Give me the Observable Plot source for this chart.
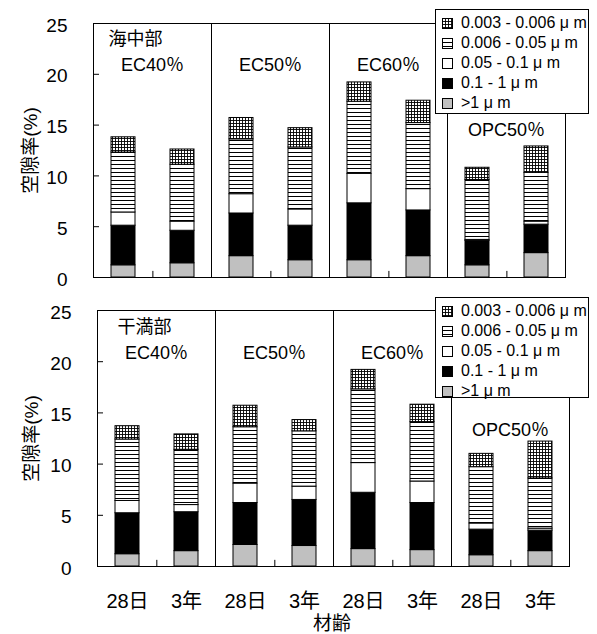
<!DOCTYPE html>
<html><head><meta charset="utf-8">
<script src="https://cdn.jsdelivr.net/npm/d3@7"></script>
<script src="https://cdn.jsdelivr.net/npm/@observablehq/plot@0.6"></script>
<style>
body{margin:0;background:#fff;font-family:"Liberation Sans","Noto Sans CJK JP",sans-serif;color:#000;}
#wrap{position:relative;width:597px;height:634px;overflow:hidden;background:#fff;}
.panel{position:absolute;left:0;}
.legend{position:absolute;border:1px solid #000;background:#fff;font-size:16px;box-sizing:border-box;padding-top:3px;z-index:2;}
.legend .row{display:flex;align-items:center;height:20px;padding-left:6px;white-space:nowrap;}
.legend .row svg{margin-right:8px;flex:none;}
.xtitle{position:absolute;left:292px;width:80px;text-align:center;top:614px;font-size:19px;line-height:20px;z-index:2;}
</style></head><body>
<svg width="0" height="0" style="position:absolute">
<defs>
<pattern id="pGrid" patternUnits="userSpaceOnUse" width="3" height="3">
 <rect width="3" height="3" fill="#fff"/>
 <path d="M0,0.5H3M0.5,0V3" stroke="#000" stroke-width="0.9"/>
</pattern>
<pattern id="pLines" patternUnits="userSpaceOnUse" width="4" height="4">
 <rect width="4" height="4" fill="#fff"/>
 <path d="M0,0.5H4" stroke="#000" stroke-width="1"/>
</pattern>
</defs></svg>
<div id="wrap"></div>
<script>
const groups = ["EC40％", "EC50％", "EC60％", "OPC50％"];
const ages = ["28日", "3年"];
// stack order, bottom to top
const sizes = [">1 μ m", "0.1 - 1 μ m", "0.05 - 0.1 μ m", "0.006 - 0.05 μ m", "0.003 - 0.006 μ m"];
const sizeFills = ["#c0c0c0", "#000000", "#ffffff", "url(#pLines)", "url(#pGrid)"];
const panelTitles = ["海中部", "干満部"];
const yTicks = [0, 5, 10, 15, 20, 25];
const yLabel = "空隙率(%)";
const xTitle = "材齢";

// bar order: EC40 28日, EC40 3年, EC50 28日, EC50 3年, EC60 28日, EC60 3年, OPC50 28日, OPC50 3年
// 海中部
const sea_gt1      = [1.2, 1.4, 2.1, 1.7, 1.7, 2.1, 1.2, 2.4];
const sea_01to1    = [3.9, 3.2, 4.2, 3.4, 5.6, 4.5, 2.4, 2.8];
const sea_005to01  = [1.3, 0.9, 1.9, 1.6, 2.9, 2.1, 0.1, 0.3];
const sea_0006to005= [5.9, 5.6, 5.4, 6.1, 7.1, 6.5, 5.9, 4.8];
const sea_0003to0006=[1.5, 1.5, 2.1, 1.9, 1.9, 2.2, 1.2, 2.6];
// 干満部
const tide_gt1      = [1.2, 1.5, 2.1, 2.0, 1.7, 1.6, 1.1, 1.5];
const tide_01to1    = [4.0, 3.8, 4.1, 4.5, 5.5, 4.6, 2.5, 2.0];
const tide_005to01  = [1.2, 0.7, 1.9, 1.3, 2.9, 2.1, 0.6, 0.2];
const tide_0006to005= [6.0, 5.4, 5.5, 5.4, 7.2, 5.8, 5.5, 4.9];
const tide_0003to0006=[1.3, 1.5, 2.1, 1.1, 1.9, 1.7, 1.3, 3.6];

const seaSeries = [sea_gt1, sea_01to1, sea_005to01, sea_0006to005, sea_0003to0006];
const tideSeries = [tide_gt1, tide_01to1, tide_005to01, tide_0006to005, tide_0003to0006];

function buildRows(series) {
  const rows = [];
  series.forEach((vals, s) => vals.forEach((v, i) => rows.push({
    group: groups[Math.floor(i / ages.length)], age: ages[i % ages.length], size: sizes[s], value: v
  })));
  return rows;
}

const FONT = '"Liberation Sans", "Noto Sans CJK JP", sans-serif';
const W = 597;

function makePanel(o) {
  const facetW = (W - o.ml - o.mr) / groups.length;
  const step = facetW / ages.length;
  const data = buildRows(o.series);
  return Plot.plot({
    width: W, height: o.height,
    marginTop: o.mt, marginBottom: o.mb, marginLeft: o.ml, marginRight: o.mr,
    style: {fontFamily: FONT, fontSize: "19px", color: "#000", background: "transparent", overflow: "visible"},
    fx: {domain: groups, padding: 0, axis: null, label: null},
    x: o.showX ? {domain: ages, paddingInner: 0.6, paddingOuter: 0.3, label: null}
               : {domain: ages, paddingInner: 0.6, paddingOuter: 0.3, axis: null, label: null},
    y: {domain: [0, 25], axis: null},
    color: {domain: sizes, range: sizeFills},
    marks: [
      Plot.barY(data, {fx: "group", x: "age", y: "value", fill: "size", stroke: "#000", strokeWidth: 1}),
      Plot.frame({stroke: "#000", strokeWidth: 1}),
      Plot.ruleX([ages[1]], {x: d => d, dx: -step / 2, y1: 0, y2: 0.6, stroke: "#000"}),
      Plot.axisY({ticks: yTicks, tickSize: 0, tickPadding: 26, dy: 2, fontSize: 19, fill: "#000",
                  label: yLabel, labelAnchor: "center", labelOffset: o.ml - 22, labelArrow: "none"}),
      Plot.axisY({ticks: yTicks.slice(1, -1), tickSize: 6, dx: 6, fill: "none", stroke: "#000", label: null}),
      Plot.text(groups.slice(0, 3), {fx: d => d, text: d => d, frameAnchor: "top", lineAnchor: "middle",
                                     dy: o.ecDy, fontSize: 18, fill: "#000"}),
      Plot.text(groups.slice(3), {fx: d => d, text: d => d, frameAnchor: "top", lineAnchor: "middle",
                                  dy: o.opcDy, fontSize: 18, fill: "#000"}),
      Plot.text([o.title], {fx: () => groups[0], text: d => d, frameAnchor: "top-left", textAnchor: "start",
                            lineAnchor: "middle", dx: o.titleDx, dy: o.titleDy, fontSize: 18, fill: "#000"}),
      o.showX ? Plot.axisX({tickSize: 0, tickPadding: 27, fontSize: 20, fill: "#000", label: null}) : null
    ]
  });
}

function makeLegend(top, height) {
  const div = document.createElement("div");
  div.className = "legend";
  Object.assign(div.style, {left: "435px", top: top + "px", width: "154px", height: height + "px"});
  for (let k = sizes.length - 1; k >= 0; k--) {
    const row = document.createElement("div");
    row.className = "row";
    row.innerHTML = `<svg width="11" height="11"><rect x="0.5" y="0.5" width="10" height="10" fill="${sizeFills[k]}" stroke="#000"/></svg><span>${sizes[k]}</span>`;
    div.appendChild(row);
  }
  return div;
}

const wrap = document.getElementById("wrap");
const top1 = makePanel({title: panelTitles[0], series: seaSeries, height: 290, mt: 23, mb: 13, ml: 92, mr: 31,
  titleDx: 15, titleDy: 16, ecDy: 42, opcDy: 107, showX: false});
top1.classList.add("panel"); top1.style.top = "0px";
wrap.appendChild(top1);
const bot = makePanel({title: panelTitles[1], series: tideSeries, height: 344, mt: 20, mb: 68, ml: 95, mr: 27,
  titleDx: 20, titleDy: 17, ecDy: 43, opcDy: 120, showX: true});
bot.classList.add("panel"); bot.style.top = "290px";
wrap.appendChild(bot);
wrap.appendChild(makeLegend(9, 105));
wrap.appendChild(makeLegend(297, 101));
const xt = document.createElement("div");
xt.className = "xtitle"; xt.textContent = xTitle;
wrap.appendChild(xt);
</script>
</body></html>
